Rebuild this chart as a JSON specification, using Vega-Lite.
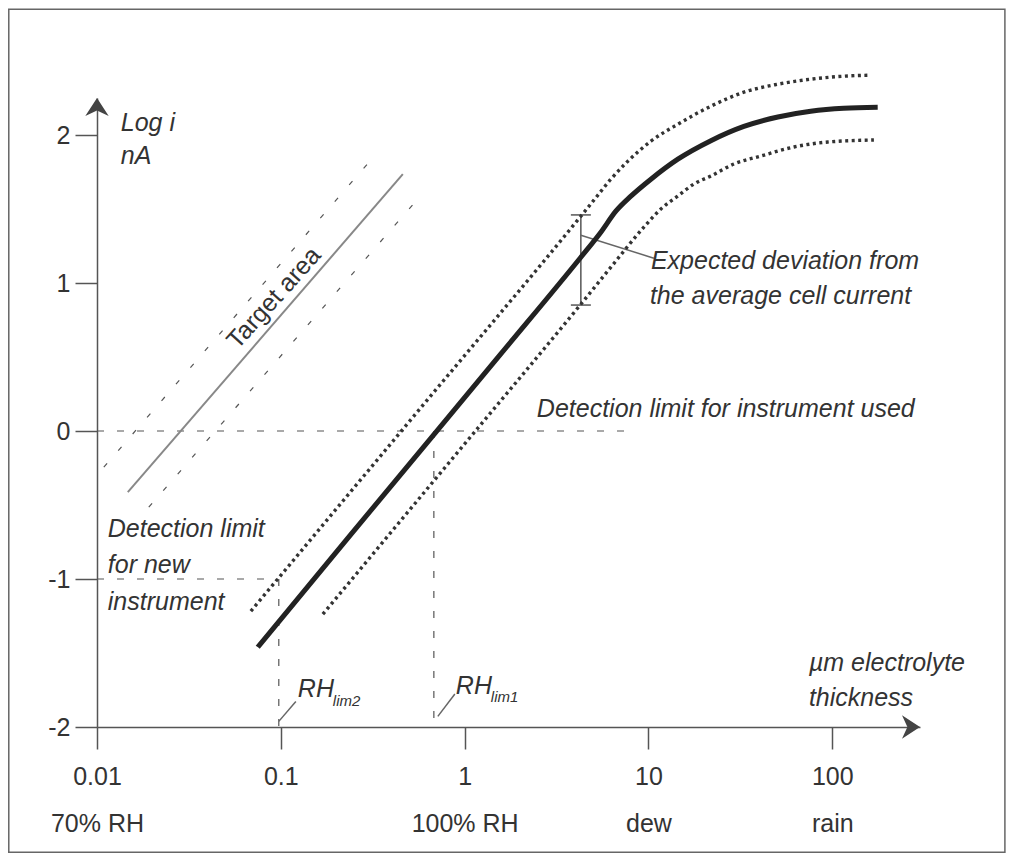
{
  "$schema": "https://vega.github.io/schema/vega-lite/v6.json",
  "width": 823,
  "height": 629,
  "autosize": {"type": "none"},
  "padding": {"left": 97, "top": 98, "right": 92, "bottom": 135},
  "background": "white",
  "config": {"view": {"stroke": null}, "font": "Liberation Sans"},
  "datasets": {
    "frame": [{"x": 0.003312, "x2": 868.9, "y": 2.85, "y2": -2.846}],
    "segments": [
      {"kind": "guide", "x": 0.01, "y": 0, "x2": 7.535, "y2": 0},
      {"kind": "guide", "x": 0.01, "y": -1, "x2": 0.0963, "y2": -1},
      {"kind": "guide", "x": 0.68, "y": 0, "x2": 0.68, "y2": -2},
      {"kind": "guide", "x": 0.0975, "y": -1, "x2": 0.0975, "y2": -2},
      {"kind": "tsolid", "x": 0.01471, "y": -0.4135, "x2": 0.4611, "y2": 1.7351},
      {"kind": "tdash", "x": 0.01089, "y": -0.2446, "x2": 0.3049, "y2": 1.823},
      {"kind": "tdash", "x": 0.01913, "y": -0.5149, "x2": 0.5426, "y2": 1.5527},
      {"kind": "err", "x": 4.287, "y": 1.46, "x2": 4.287, "y2": 0.851},
      {"kind": "err", "x": 3.783, "y": 1.46, "x2": 4.859, "y2": 1.46},
      {"kind": "err", "x": 3.783, "y": 0.851, "x2": 4.859, "y2": 0.851},
      {"kind": "leader", "x": 4.287, "y": 1.323, "x2": 10.7, "y2": 1.1676},
      {"kind": "leader", "x": 0.0975, "y": -1.962, "x2": 0.1207, "y2": -1.827},
      {"kind": "leader", "x": 0.7147, "y": -1.928, "x2": 0.8845, "y2": -1.777}
    ],
    "curves": [
      {"series": "thick", "x": 0.07497, "y": -1.4608},
      {"series": "thick", "x": 0.2394, "y": -0.702},
      {"series": "thick", "x": 1.5735, "y": 0.521},
      {"series": "thick", "x": 4.287, "y": 1.1743},
      {"series": "thick", "x": 5.508, "y": 1.3432},
      {"series": "thick", "x": 6.646, "y": 1.4851},
      {"series": "thick", "x": 8.022, "y": 1.5865},
      {"series": "thick", "x": 10.31, "y": 1.7014},
      {"series": "thick", "x": 14.45, "y": 1.8365},
      {"series": "thick", "x": 21.85, "y": 1.9616},
      {"series": "thick", "x": 33.04, "y": 2.058},
      {"series": "thick", "x": 50.58, "y": 2.122},
      {"series": "thick", "x": 76.29, "y": 2.1608},
      {"series": "thick", "x": 115.3, "y": 2.1811},
      {"series": "thick", "x": 176.6, "y": 2.1878},
      {"series": "upper", "x": 0.06867, "y": -1.2176},
      {"series": "upper", "x": 0.5777, "y": 0.1574},
      {"series": "upper", "x": 4.287, "y": 1.4514},
      {"series": "upper", "x": 5.046, "y": 1.5595},
      {"series": "upper", "x": 6.244, "y": 1.7014},
      {"series": "upper", "x": 7.726, "y": 1.823},
      {"series": "upper", "x": 10.31, "y": 1.958},
      {"series": "upper", "x": 14.45, "y": 2.073},
      {"series": "upper", "x": 21.85, "y": 2.1946},
      {"series": "upper", "x": 33.04, "y": 2.2892},
      {"series": "upper", "x": 50.58, "y": 2.3432},
      {"series": "upper", "x": 76.29, "y": 2.377},
      {"series": "upper", "x": 115.3, "y": 2.3973},
      {"series": "upper", "x": 161.8, "y": 2.4041},
      {"series": "lower", "x": 0.1693, "y": -1.2378},
      {"series": "lower", "x": 0.8412, "y": -0.1986},
      {"series": "lower", "x": 4.287, "y": 0.8568},
      {"series": "lower", "x": 6.244, "y": 1.1068},
      {"series": "lower", "x": 9.441, "y": 1.377},
      {"series": "lower", "x": 11.68, "y": 1.5},
      {"series": "lower", "x": 14.45, "y": 1.5878},
      {"series": "lower", "x": 17.66, "y": 1.6689},
      {"series": "lower", "x": 21.85, "y": 1.723},
      {"series": "lower", "x": 29.15, "y": 1.8041},
      {"series": "lower", "x": 40.89, "y": 1.8581},
      {"series": "lower", "x": 61.81, "y": 1.9189},
      {"series": "lower", "x": 94.65, "y": 1.9527},
      {"series": "lower", "x": 168.4, "y": 1.9662}
    ],
    "arrows": [
      {"kind": "xarrow", "x": 300, "y": -2},
      {"kind": "yarrow", "x": 0.01, "y": 2.25}
    ],
    "labels": [
      {"kind": "note", "x": 0.013467, "y": 2.026, "text": "Log i"},
      {"kind": "note", "x": 0.013467, "y": 1.803, "text": "nA"},
      {"kind": "note", "x": 10.31, "y": 1.093, "text": "Expected deviation from"},
      {"kind": "note", "x": 10.18, "y": 0.857, "text": "the average cell current"},
      {"kind": "note", "x": 2.47, "y": 0.093, "text": "Detection limit for instrument used"},
      {"kind": "note", "x": 0.01145, "y": -0.7176, "text": "Detection limit"},
      {"kind": "note", "x": 0.01145, "y": -0.9608, "text": "for new"},
      {"kind": "note", "x": 0.01145, "y": -1.2108, "text": "instrument"},
      {"kind": "note", "x": 74.6, "y": -1.623, "text": "µm electrolyte"},
      {"kind": "note", "x": 74.6, "y": -1.859, "text": "thickness"},
      {"kind": "note", "x": 0.1238, "y": -1.7986, "text": "RH"},
      {"kind": "note", "x": 0.8956, "y": -1.778, "text": "RH"},
      {"kind": "sub", "x": 0.1918, "y": -1.859, "text": "lim2"},
      {"kind": "sub", "x": 1.388, "y": -1.832, "text": "lim1"},
      {"kind": "rot", "x": 0.0988, "y": 0.8635, "text": "Target area"}
    ]
  },
  "encoding": {
    "x": {
      "field": "x",
      "type": "quantitative",
      "scale": {"type": "log", "domain": [0.01, 300], "nice": false},
      "axis": {
        "values": [0.01, 0.1, 1, 10, 100],
        "title": null,
        "grid": false,
        "domainColor": "#555",
        "domainWidth": 1.5,
        "tickColor": "#555",
        "tickWidth": 1.5,
        "tickSize": 22,
        "labelFont": "Liberation Sans",
        "labelFontSize": 25,
        "labelColor": "#333",
        "labelPadding": 15,
        "labelFlush": false,
        "labelBound": false,
        "labelOverlap": false,
        "labelLineHeight": 47,
        "labelExpr": "datum.value == 0.01 ? ['0.01', '70% RH'] : datum.value == 1 ? ['1', '100% RH'] : datum.value == 10 ? ['10', 'dew'] : datum.value == 100 ? ['100', 'rain'] : '0.1'"
      }
    },
    "y": {
      "field": "y",
      "type": "quantitative",
      "scale": {"domain": [-2, 2.25], "nice": false, "zero": false},
      "axis": {
        "values": [-2, -1, 0, 1, 2],
        "title": null,
        "grid": false,
        "domainColor": "#555",
        "domainWidth": 1.5,
        "tickColor": "#555",
        "tickWidth": 1.5,
        "tickSize": 22,
        "labelFont": "Liberation Sans",
        "labelFontSize": 25,
        "labelColor": "#333",
        "labelPadding": 5,
        "labelExpr": "'' + datum.value"
      }
    }
  },
  "layer": [
    {
      "data": {"name": "frame"},
      "mark": {"type": "rect", "fillOpacity": 0, "stroke": "#666", "strokeWidth": 1.5},
      "encoding": {"x2": {"field": "x2"}, "y2": {"field": "y2"}}
    },
    {
      "data": {"name": "segments"},
      "transform": [{"filter": "datum.kind == 'guide'"}],
      "mark": {"type": "rule", "stroke": "#555", "strokeWidth": 1.2, "strokeDash": [7, 13]},
      "encoding": {"x2": {"field": "x2"}, "y2": {"field": "y2"}}
    },
    {
      "data": {"name": "segments"},
      "transform": [{"filter": "datum.kind == 'tdash'"}],
      "mark": {"type": "rule", "stroke": "#555", "strokeWidth": 1.2, "strokeDash": [5, 17]},
      "encoding": {"x2": {"field": "x2"}, "y2": {"field": "y2"}}
    },
    {
      "data": {"name": "segments"},
      "transform": [{"filter": "datum.kind == 'tsolid'"}],
      "mark": {"type": "rule", "stroke": "#888", "strokeWidth": 2},
      "encoding": {"x2": {"field": "x2"}, "y2": {"field": "y2"}}
    },
    {
      "data": {"name": "segments"},
      "transform": [{"filter": "datum.kind == 'err'"}],
      "mark": {"type": "rule", "stroke": "#555", "strokeWidth": 1.5},
      "encoding": {"x2": {"field": "x2"}, "y2": {"field": "y2"}}
    },
    {
      "data": {"name": "segments"},
      "transform": [{"filter": "datum.kind == 'leader'"}],
      "mark": {"type": "rule", "stroke": "#666", "strokeWidth": 1.5},
      "encoding": {"x2": {"field": "x2"}, "y2": {"field": "y2"}}
    },
    {
      "data": {"name": "curves"},
      "transform": [{"filter": "datum.series == 'upper'"}],
      "mark": {"type": "line", "stroke": "#333", "strokeWidth": 3.4, "strokeDash": [3, 3.5], "interpolate": "monotone"},
      "encoding": {}
    },
    {
      "data": {"name": "curves"},
      "transform": [{"filter": "datum.series == 'lower'"}],
      "mark": {"type": "line", "stroke": "#333", "strokeWidth": 3.4, "strokeDash": [3, 3.5], "interpolate": "monotone"},
      "encoding": {}
    },
    {
      "data": {"name": "curves"},
      "transform": [{"filter": "datum.series == 'thick'"}],
      "mark": {"type": "line", "stroke": "#222", "strokeWidth": 5, "interpolate": "monotone"},
      "encoding": {}
    },
    {
      "data": {"name": "arrows"},
      "transform": [{"filter": "datum.kind == 'xarrow'"}],
      "mark": {"type": "point", "filled": true, "fill": "#444", "opacity": 1, "strokeWidth": 0, "size": 1296, "shape": "M0,0L-1,-0.65L-0.7,0L-1,0.65Z"}
    },
    {
      "data": {"name": "arrows"},
      "transform": [{"filter": "datum.kind == 'yarrow'"}],
      "mark": {"type": "point", "filled": true, "fill": "#444", "opacity": 1, "strokeWidth": 0, "size": 1296, "shape": "M0,0L-0.65,1L0,0.7L0.65,1Z"}
    },
    {
      "data": {"name": "labels"},
      "transform": [{"filter": "datum.kind == 'note'"}],
      "mark": {"type": "text", "align": "left", "baseline": "alphabetic", "font": "Liberation Sans", "fontSize": 25, "fontStyle": "italic", "fill": "#333"},
      "encoding": {"text": {"field": "text", "type": "nominal"}}
    },
    {
      "data": {"name": "labels"},
      "transform": [{"filter": "datum.kind == 'sub'"}],
      "mark": {"type": "text", "align": "left", "baseline": "alphabetic", "font": "Liberation Sans", "fontSize": 15, "fontStyle": "italic", "fill": "#333"},
      "encoding": {"text": {"field": "text", "type": "nominal"}}
    },
    {
      "data": {"name": "labels"},
      "transform": [{"filter": "datum.kind == 'rot'"}],
      "mark": {"type": "text", "align": "center", "baseline": "alphabetic", "angle": 312, "font": "Liberation Sans", "fontSize": 25, "fill": "#333"},
      "encoding": {"text": {"field": "text", "type": "nominal"}}
    }
  ]
}
